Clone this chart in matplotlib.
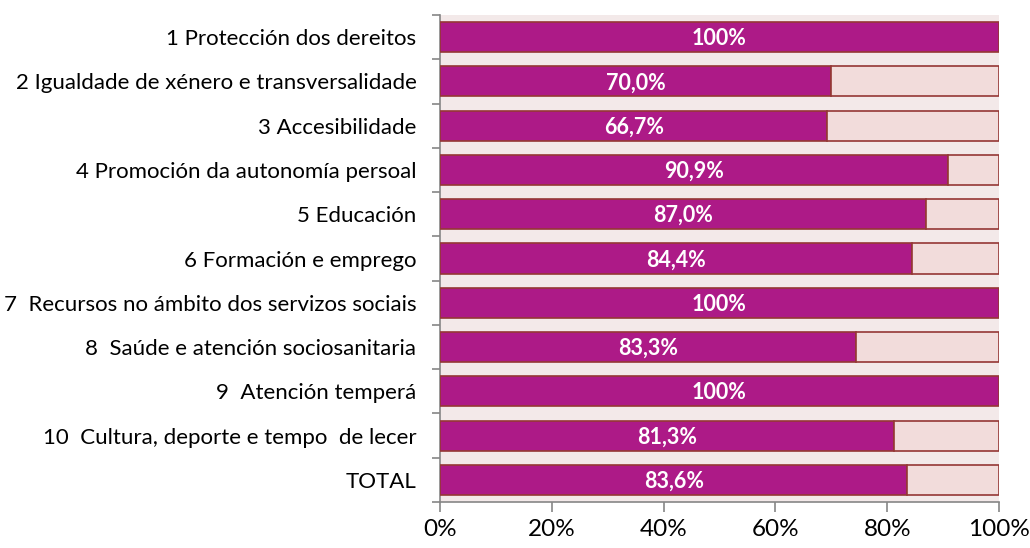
import matplotlib
matplotlib.use("Agg")
import matplotlib.pyplot as plt
import numpy as np
from matplotlib.ticker import FixedLocator, PercentFormatter

categories = [
    "1 Protección dos dereitos",
    "2 Igualdade de xénero e transversalidade",
    "3 Accesibilidade",
    "4 Promoción da autonomía persoal",
    "5 Educación",
    "6 Formación e emprego",
    "7  Recursos no ámbito dos servizos sociais",
    "8  Saúde e atención sociosanitaria",
    "9  Atención temperá",
    "10  Cultura, deporte e tempo  de lecer",
    "TOTAL",
]
bar_values = [100, 70.0, 69.3, 90.9, 87.0, 84.4, 100, 74.5, 100, 81.3, 83.6]
bar_labels = ["100%", "70,0%", "66,7%", "90,9%", "87,0%", "84,4%", "100%",
              "83,3%", "100%", "81,3%", "83,6%"]
x_ticks = [0, 20, 40, 60, 80, 100]

plt.rcParams['font.family'] = ['Lato', 'DejaVu Sans']

fig = plt.figure(figsize=(10.30, 5.48), dpi=100)
ax = fig.add_axes([0.4272, 0.0839, 0.5427, 0.8887])
ax.set_facecolor("#F3E9E9")

n = len(categories)
y = np.arange(n)
vals = np.array(bar_values)
rest = 100 - vals
h = 0.68
magenta = "#AD1A87"
edge = "#953735"
ax.barh(y, vals, height=h, color=magenta, edgecolor=edge, linewidth=1.2, zorder=3)
mask = rest > 0
ax.barh(y[mask], rest[mask], left=vals[mask], height=h, color="#F2DCDB",
        edgecolor=edge, linewidth=1.2, zorder=3)

for yi, v, lab in zip(y, vals, bar_labels):
    ax.text(v / 2, yi + 0.03, lab, ha="center", va="center", color="white",
            fontsize=15.5, fontweight="bold", zorder=4)

ax.set_xlim(0, 100)
ax.set_ylim(n - 0.5, -0.5)
ax.set_yticks(y)
ax.set_yticklabels(categories, fontsize=16)
ax.yaxis.set_minor_locator(FixedLocator(np.arange(-0.5, n, 1.0)))
ax.tick_params(axis="y", which="major", length=0, pad=17)
ax.tick_params(axis="y", which="minor", length=6, width=1.2, color="#868686")
ax.set_xticks(x_ticks)
ax.xaxis.set_major_formatter(PercentFormatter(decimals=0))
ax.tick_params(axis="x", which="major", length=7, width=1.2, color="#868686",
               labelsize=17.5, pad=5)

for s in ["top", "right"]:
    ax.spines[s].set_visible(False)
for s in ["left", "bottom"]:
    ax.spines[s].set_color("#868686")
    ax.spines[s].set_linewidth(1.2)

fig.savefig("out.png", dpi=100)
